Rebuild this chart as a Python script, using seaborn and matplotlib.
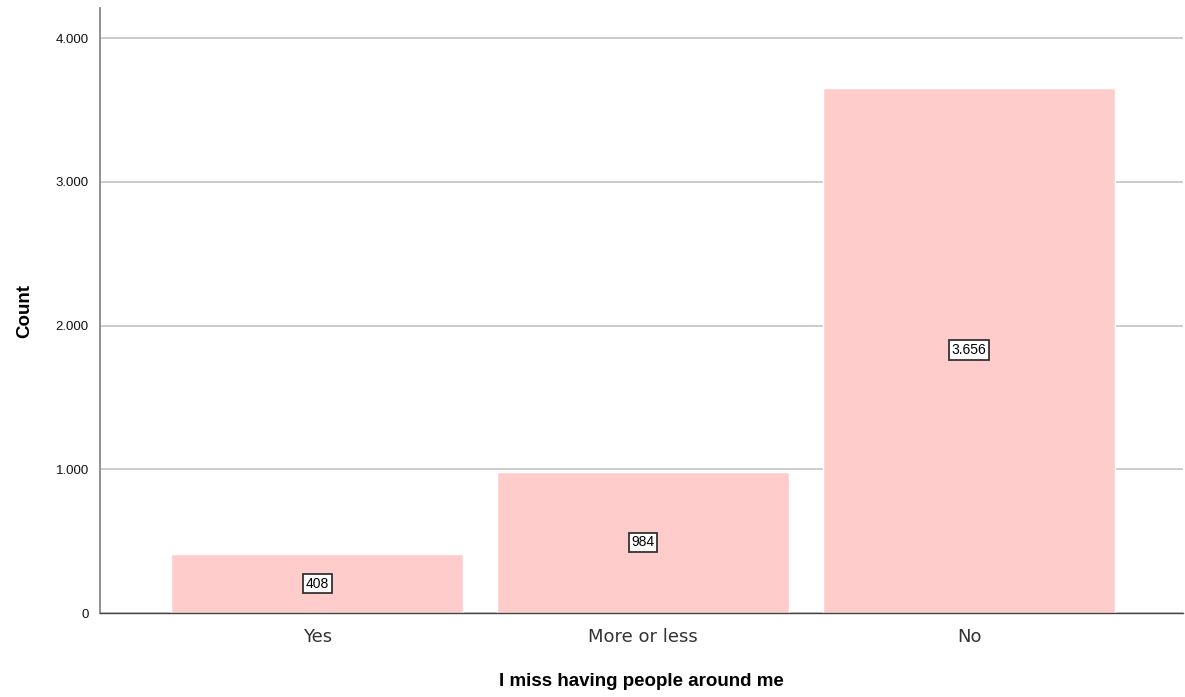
import matplotlib
matplotlib.use("Agg")
import pandas as pd
import seaborn as sns
import matplotlib.pyplot as plt
from matplotlib.ticker import FuncFormatter

# --- data ---
categories = ["Yes", "More or less", "No"]
counts = [408, 984, 3656]
y_ticks = [0, 1000, 2000, 3000, 4000]

df = pd.DataFrame({"answer": categories, "count": counts})

sns.set_style("white")
plt.rcParams["font.family"] = ["Liberation Sans", "DejaVu Sans"]

fig = plt.figure(figsize=(11.85, 6.97), dpi=100)
ax = fig.add_axes([0.0844, 0.1205, 0.9139, 0.868])

sns.barplot(data=df, x="answer", y="count", color="#ffcccc", saturation=1,
            width=0.896, errorbar=None, ax=ax, zorder=2)

ax.set_xlim(-0.666, 2.656)
ax.set_ylim(0, 4209)
ax.set_yticks(y_ticks)
ax.yaxis.set_major_formatter(FuncFormatter(lambda v, p: f"{int(v):,}".replace(",", ".")))
ax.grid(axis="y", color="#c4c4c4", linewidth=1.2, zorder=0)
ax.set_axisbelow(True)

for s in ["top", "right"]:
    ax.spines[s].set_visible(False)
ax.spines["left"].set_color("#888888")
ax.spines["left"].set_linewidth(1.3)
ax.spines["bottom"].set_color("#444444")
ax.spines["bottom"].set_linewidth(1.0)

ax.tick_params(axis="y", length=0, labelsize=9.5, pad=8, colors="#111111")
ax.tick_params(axis="x", length=0, labelsize=14, pad=11, colors="#333333")
for t in ax.get_xticklabels():
    t.set_family(["DejaVu Sans"])
    t.set_fontsize(13)

ax.set_xlabel("I miss having people around me", fontsize=13.5, fontweight="bold",
              labelpad=19, color="black")
ax.set_ylabel("Count", fontsize=13.5, fontweight="bold", labelpad=16, color="black")

# value labels in the middle of each bar
for i, c in enumerate(counts):
    ax.text(i, c / 2, f"{c:,}".replace(",", "."), ha="center", va="center", fontsize=10,
            color="black",
            bbox=dict(boxstyle="square,pad=0.2", facecolor="white", edgecolor="#333333", linewidth=1.3),
            zorder=5)

plt.savefig("out.png", dpi=100)
plt.close()
